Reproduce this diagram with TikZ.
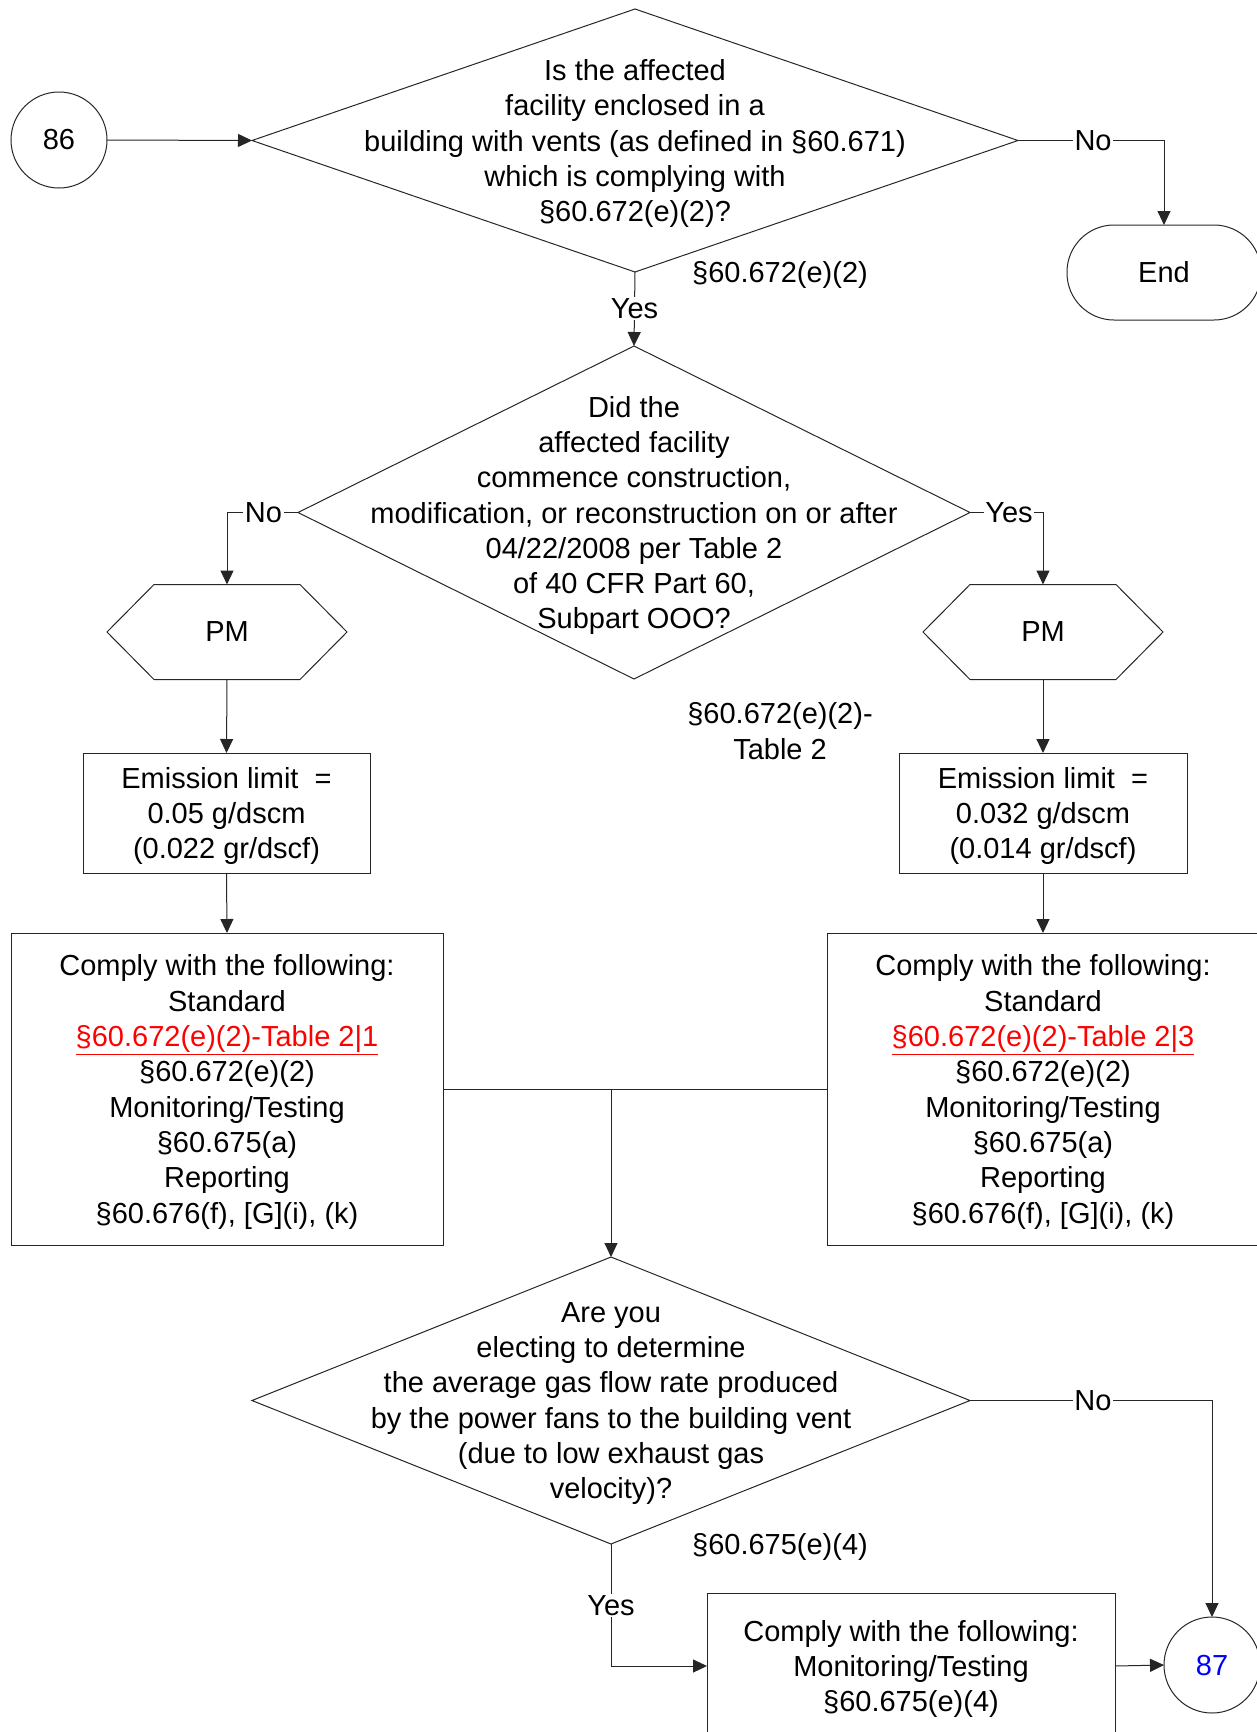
\documentclass[tikz,border=0pt]{standalone}
\usepackage{fontspec}
\setmainfont{Liberation Sans}
\usetikzlibrary{shapes.geometric,arrows.meta}
\begin{document}
\begin{tikzpicture}[x=1pt,y=-1pt,
  every node/.style={font=\fontsize{29}{35.3}\selectfont, outer sep=0pt},
  ln/.style={draw=black!85, line width=1pt},
  arr/.style={ln, -{Triangle[length=14pt,width=13pt]}},
  circ/.style={ln, circle, minimum size=96pt, inner sep=0pt},
  dia/.style={ln, diamond, inner sep=0pt},
  txt/.style={align=center, inner sep=0pt, yshift=-3pt},
  boxx/.style={ln, rectangle, inner sep=0pt},
  term/.style={ln, rectangle, rounded corners=47pt, inner sep=0pt},
  hexn/.style={rectangle, inner sep=0pt},
  lbl/.style={fill=white, inner sep=1.5pt},
  lnk/.style={}]
\useasboundingbox (0,0) rectangle (1256,1732);

% top section
\node[circ] (c86) at (59,140) {86};
\node[dia, minimum width=766pt, minimum height=263pt] (d1) at (635,140.5) {};
\node[txt] (d1t) at (d1.center) {Is the affected\\facility enclosed in a\\building with vents (as defined in §60.671)\\which is complying with\\§60.672(e)(2)?};
\node[term, minimum width=194pt, minimum height=95pt] (end) at (1164,272.5) {End};
\node[txt] (r1) at (780,272) {§60.672(e)(2)};

% second decision
\node[dia, minimum width=672pt, minimum height=333pt] (d2) at (634,512.5) {};
\node[txt] (d2t) at (d2.center) {Did the\\affected facility\\commence construction,\\modification, or reconstruction on or after\\04/22/2008 per Table 2\\of 40 CFR Part 60,\\Subpart OOO?};
\node[txt] (r2) at (780,728) {§60.672(e)(2)-\\Table 2};

% hexagons
\node[hexn, minimum width=240pt, minimum height=95pt] (pm1) at (227,632) {PM};
\node[hexn, minimum width=240pt, minimum height=95pt] (pm2) at (1043,632) {PM};
\foreach \h in {pm1,pm2}{
  \draw[ln] ([xshift=47pt]\h.north west) -- ([xshift=-47pt]\h.north east) -- (\h.east)
    -- ([xshift=-47pt]\h.south east) -- ([xshift=47pt]\h.south west) -- (\h.west) -- cycle;
}

% emission boxes
\node[boxx, minimum width=287pt, minimum height=120pt] (em1) at (226.5,813) {};
\node[txt] (em1t) at (em1.center) {Emission limit\ \ =\\0.05 g/dscm\\(0.022 gr/dscf)};
\node[boxx, minimum width=288pt, minimum height=120pt] (em2) at (1043,813) {};
\node[txt] (em2t) at (em2.center) {Emission limit\ \ =\\0.032 g/dscm\\(0.014 gr/dscf)};

% comply boxes
\node[boxx, minimum width=432pt, minimum height=312pt] (cb1) at (227,1089) {};
\node[txt] (cb1t) at (cb1.center) {Comply with the following:\\Standard\\\textcolor{red}{\underline{§60.672(e)(2)-Table 2|1}}\\§60.672(e)(2)\\Monitoring/Testing\\§60.675(a)\\Reporting\\§60.676(f), [G](i), (k)};
\node[boxx, minimum width=432pt, minimum height=312pt] (cb2) at (1043,1089) {};
\node[txt] (cb2t) at (cb2.center) {Comply with the following:\\Standard\\\textcolor{red}{\underline{§60.672(e)(2)-Table 2|3}}\\§60.672(e)(2)\\Monitoring/Testing\\§60.675(a)\\Reporting\\§60.676(f), [G](i), (k)};
\coordinate (j) at (611,1089);

% third decision
\node[dia, minimum width=718pt, minimum height=287pt] (d3) at (611,1400.5) {};
\node[txt] (d3t) at (d3.center) {Are you\\electing to determine\\the average gas flow rate produced\\by the power fans to the building vent\\(due to low exhaust gas\\velocity)?};
\node[txt] (r3) at (780,1544) {§60.675(e)(4)};

\node[boxx, minimum width=408pt, minimum height=146pt] (b3) at (911,1666) {};
\node[txt] (b3t) at (b3.center) {Comply with the following:\\Monitoring/Testing\\§60.675(e)(4)};
\node[circ] (c87) at (1212,1665) {\textcolor{blue}{87}};

% connectors
\draw[arr] (c86.east) -- (d1.west);
\draw[arr] (d1.east) -| (end.north) node[lbl, pos=0.257] {No};
\draw[arr] (d1.south) -- (d2.north) node[lbl, pos=0.49] {Yes};
\draw[arr] (d2.west) -| (pm1.north) node[lbl, pos=0.243] {No};
\draw[arr] (d2.east) -| (pm2.north) node[lbl, pos=0.267] {Yes};
\draw[arr] (pm1.south) -- (em1.north);
\draw[arr] (pm2.south) -- (em2.north);
\draw[arr] (em1.south) -- (cb1.north);
\draw[arr] (em2.south) -- (cb2.north);
\draw[ln] (cb1.east) -- (cb2.west);
\draw[arr] (j) -- (d3.north);
\draw[arr] (d3.east) -| (c87.north) node[lbl, pos=0.254] {No};
\draw[arr] (d3.south) |- (b3.west) node[lbl, pos=0.252] {Yes};
\draw[arr] (b3.east) -- (c87.west);
\end{tikzpicture}
\end{document}
